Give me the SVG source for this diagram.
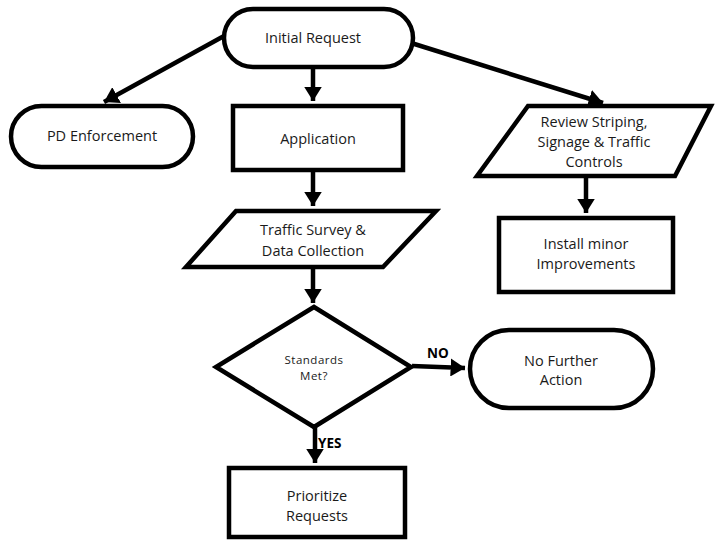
<svg xmlns="http://www.w3.org/2000/svg" width="715" height="541" viewBox="0 0 715 541">
<style>
.s{fill:#fff;stroke:#000;stroke-width:4.5;stroke-linejoin:miter}
.t{font-family:"Open Sans","Noto Sans",sans-serif;font-size:14.5px;fill:#1a1a1a;text-anchor:middle}
.sm{font-size:11.5px;letter-spacing:0.5px}
.c{stroke:#000;stroke-width:4.5;fill:none}
.lb{font-family:"Open Sans","Noto Sans",sans-serif;font-size:13.5px;font-weight:bold;fill:#000}
</style>
<defs>
<marker id="ah" markerWidth="4" markerHeight="4" refX="3.2" refY="2" orient="auto" markerUnits="strokeWidth">
<path d="M0,0 L3.2,2 L0,4 Z" fill="#000"/>
</marker>
</defs>
<rect width="715" height="541" fill="#fff"/>
<g id="connectors">
<path class="c" d="M313,68 V101" marker-end="url(#ah)"/>
<path class="c" d="M313,170 V206" marker-end="url(#ah)"/>
<path class="c" d="M313,267 V303" marker-end="url(#ah)"/>
<path class="c" d="M315,427 V463" marker-end="url(#ah)"/>
<path class="c" d="M586,176 V213" marker-end="url(#ah)"/>
<path class="c" d="M224,36 L104,102" marker-end="url(#ah)"/>
<path class="c" d="M408,42 L603,103" marker-end="url(#ah)"/>
<path class="c" d="M412,366 L465,368" marker-end="url(#ah)"/>
<text class="lb" x="427" y="358">NO</text>
<text class="lb" x="318" y="448">YES</text>
</g>
<g id="initial-request">
<rect class="s" x="224" y="9" width="189" height="58" rx="29"/>
<text class="t" x="313" y="43">Initial Request</text>
</g>
<g id="pd-enforcement">
<rect class="s" x="11" y="106" width="182" height="61" rx="30.5"/>
<text class="t" x="102" y="141">PD Enforcement</text>
</g>
<g id="application">
<rect class="s" x="233" y="106" width="170" height="64"/>
<text class="t" x="318" y="144">Application</text>
</g>
<g id="review">
<polygon class="s" points="528,106 711,106 675,176 477,176"/>
<text class="t" x="594" y="127">Review Striping,</text>
<text class="t" x="594" y="147">Signage &amp; Traffic</text>
<text class="t" x="594" y="167">Controls</text>
</g>
<g id="install">
<rect class="s" x="499" y="218" width="174" height="74"/>
<text class="t" x="586" y="249">Install minor</text>
<text class="t" x="586" y="269">Improvements</text>
</g>
<g id="traffic-survey">
<polygon class="s" points="236,211 436,211 383,267 186,267"/>
<text class="t" x="313" y="235">Traffic Survey &amp;</text>
<text class="t" x="313" y="256">Data Collection</text>
</g>
<g id="standards">
<polygon class="s" points="314,307 411,367 314,427 216,367"/>
<text class="t sm" x="314" y="364">Standards</text>
<text class="t sm" x="314" y="380">Met?</text>
</g>
<g id="no-further">
<rect class="s" x="470" y="330" width="183" height="78" rx="39"/>
<text class="t" x="561" y="366">No Further</text>
<text class="t" x="561" y="385">Action</text>
</g>
<g id="prioritize">
<rect class="s" x="229" y="468" width="176" height="69"/>
<text class="t" x="317" y="501">Prioritize</text>
<text class="t" x="317" y="521">Requests</text>
</g>
</svg>
